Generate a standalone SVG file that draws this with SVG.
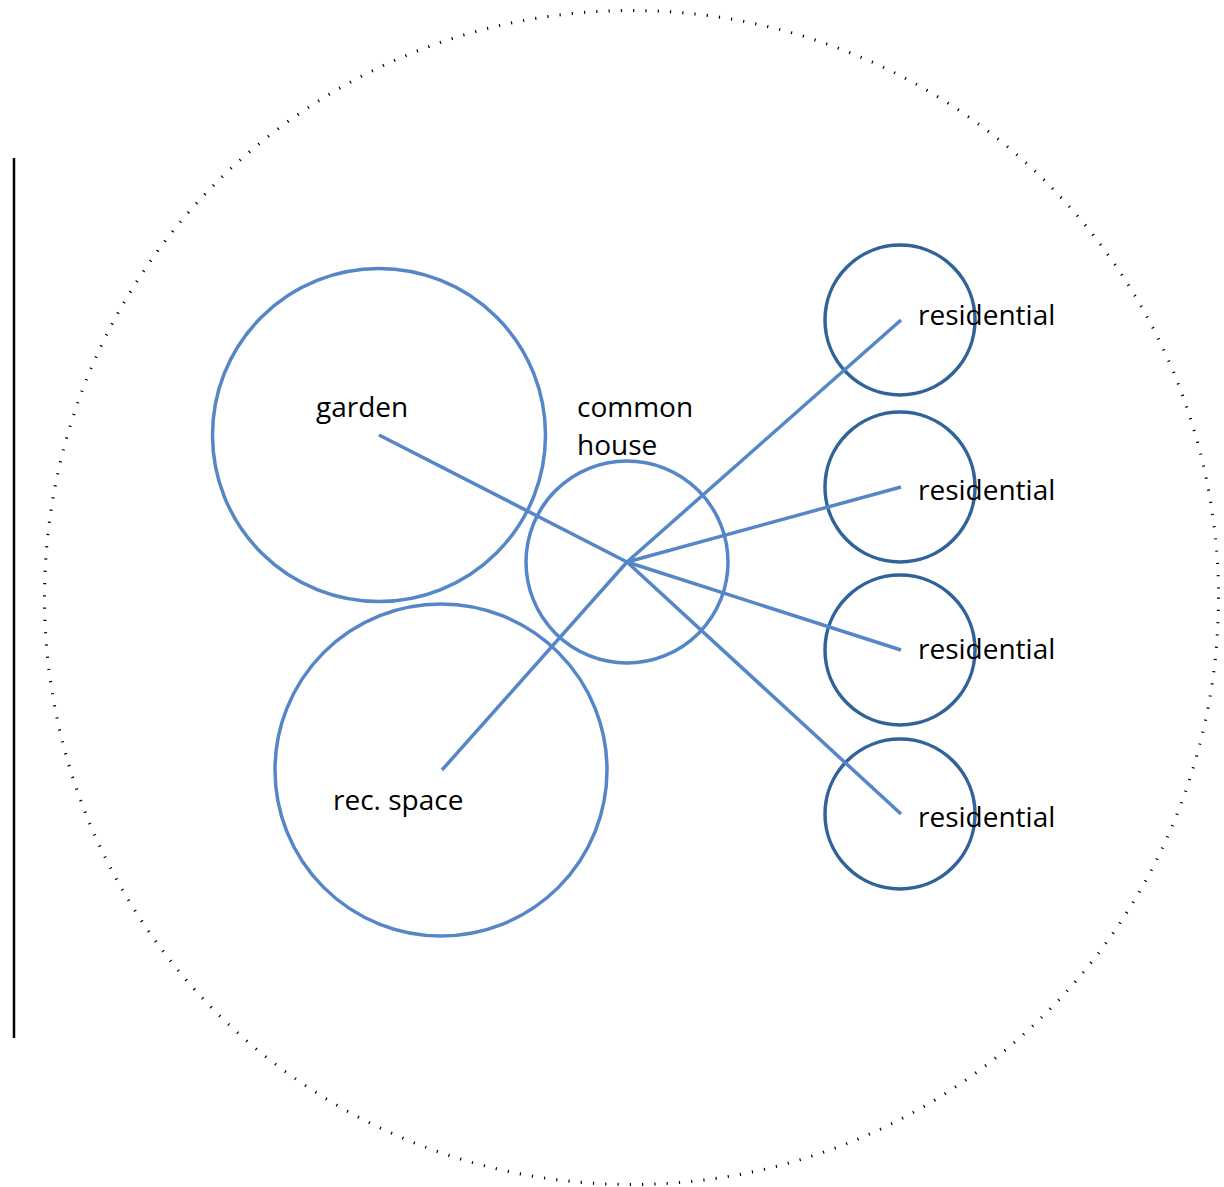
<svg xmlns="http://www.w3.org/2000/svg" width="1224" height="1187" viewBox="0 0 1224 1187">
<style>
.big{fill:none;stroke:#5586C8;stroke-width:3.5}
.res{fill:none;stroke:#2F6399;stroke-width:3.5}
.ln{stroke:#5586C8;stroke-width:3.5;fill:none}
text{font-family:"Open Sans","Liberation Sans",sans-serif;font-size:28px;fill:#000}
</style>
<rect width="1224" height="1187" fill="#fff"/>
<g id="boundary">
<circle cx="631.5" cy="597.5" r="587" fill="none" stroke="#000" stroke-width="3" stroke-dasharray="1.2 11.1"/>
</g>
<g id="edge-line">
<line x1="14" y1="158" x2="14" y2="1038" stroke="#000" stroke-width="2.5"/>
</g>
<g id="garden">
<circle class="big" cx="379" cy="435" r="166.5"/>
<text x="316" y="417">garden</text>
</g>
<g id="rec-space">
<circle class="big" cx="441" cy="770" r="166"/>
<text x="333" y="810">rec. space</text>
</g>
<g id="common-house">
<circle class="big" cx="627" cy="562" r="101"/>
<text x="577" y="417">common</text>
<text x="577" y="455">house</text>
</g>
<g id="res1"><circle class="res" cx="900" cy="320" r="75"/><text x="918" y="325">residential</text></g>
<g id="res2"><circle class="res" cx="900" cy="487" r="75"/><text x="918" y="500">residential</text></g>
<g id="res3"><circle class="res" cx="900" cy="650" r="75"/><text x="918" y="659">residential</text></g>
<g id="res4"><circle class="res" cx="900" cy="814" r="75"/><text x="918" y="827">residential</text></g>
<g id="connectors">
<line class="ln" x1="627" y1="562" x2="379" y2="435"/>
<line class="ln" x1="627" y1="562" x2="442" y2="770"/>
<line class="ln" x1="627" y1="562" x2="901" y2="320"/>
<line class="ln" x1="627" y1="562" x2="901" y2="487"/>
<line class="ln" x1="627" y1="562" x2="901" y2="650"/>
<line class="ln" x1="627" y1="562" x2="901" y2="814"/>
</g>
</svg>
